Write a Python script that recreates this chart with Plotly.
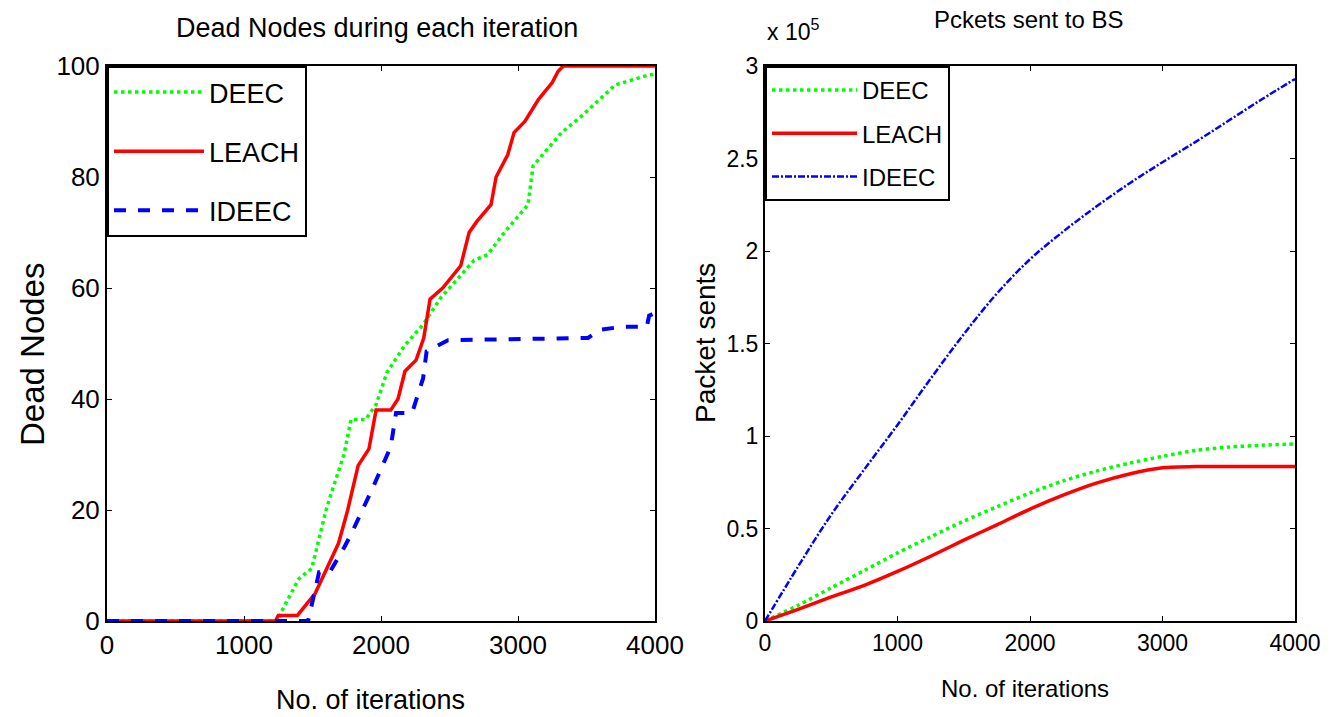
import plotly.graph_objects as go

# ---------------- Left panel: dead nodes ----------------
deec_x = [0, 1250, 1280, 1400, 1495, 1599, 1650, 1730, 1781, 1888, 1964, 2044, 2175, 2307,
          2438, 2570, 2680, 2778, 2900, 3073, 3110, 3318, 3465, 3710, 3957, 4000]
deec_y = [0, 0, 2, 7.6, 9.5, 20, 24, 30, 36.3, 36.3, 39, 44.8, 49.7, 53.4,
          58.3, 62, 65, 66, 70, 75, 82, 88, 91, 96.6, 98.4, 98.5]

leach_x = [0, 1230, 1250, 1390, 1520, 1575, 1690, 1757, 1833, 1912, 1964, 2071, 2124, 2175,
           2256, 2312, 2358, 2450, 2582, 2643, 2700, 2803, 2840, 2925, 2971, 3050, 3150,
           3250, 3292, 3330, 4000]
leach_y = [0, 0, 1, 1, 5, 8, 14, 20, 28, 31, 38, 38, 40, 45,
           47, 51, 58, 60, 64, 70, 72, 75, 80, 84, 88, 90, 94,
           97, 99, 100, 100]

ideec_x = [0, 1468, 1548, 1626, 1730, 1781, 1940, 2071, 2110, 2227, 2307, 2333, 2489,
           3511, 3600, 3760, 3940, 3957, 4000]
ideec_y = [0, 0, 8.8, 8.8, 13.2, 15.6, 24, 31.4, 37.5, 37.5, 43.7, 48.6, 50.6,
           51, 52.5, 53, 53, 55, 55.5]

# ---------------- Right panel: packets sent to BS ----------------
iters = [0, 250, 500, 750, 1000, 1250, 1500, 1750, 2000, 2250, 2500, 2750, 3000,
         3250, 3500, 3750, 4000]
pk_deec = [0, 8500, 18000, 27300, 36800, 45500, 54000, 61700, 69200, 75700, 81000,
           85300, 89000, 92200, 94000, 95000, 95700]
pk_leach = [0, 6300, 13000, 19300, 26800, 35000, 43700, 52000, 60500, 68000, 74500,
            79500, 82800, 83500, 83500, 83500, 83500]
pk_ideec = [0, 29500, 57500, 82000, 106000, 131000, 155000, 177000, 195500, 210500,
            224000, 236500, 248000, 259000, 270500, 282000, 293000]

x_ticks = [0, 1000, 2000, 3000, 4000]
left_y_ticks = [0, 20, 40, 60, 80, 100]
right_y_ticks = [0, 50000, 100000, 150000, 200000, 250000, 300000]
right_y_text = ["0", "0.5", "1", "1.5", "2", "2.5", "3"]

FONT = "Liberation Sans, Arial, Helvetica, sans-serif"
GREEN, RED, BLUE = "#00ff00", "#ff0000", "#0000ff"

W, H = 1332, 717
def px(x):
    return x / W
def py(y):
    return 1 - y / H

fig = go.Figure()

fig.add_trace(go.Scatter(x=deec_x, y=deec_y, name="DEEC", mode="lines",
                         line=dict(color=GREEN, width=3.5, dash="dot"),
                         xaxis="x", yaxis="y", legend="legend", legendgroup="a"))
fig.add_trace(go.Scatter(x=leach_x, y=leach_y, name="LEACH", mode="lines",
                         line=dict(color=RED, width=3.5),
                         xaxis="x", yaxis="y", legend="legend", legendgroup="b"))
fig.add_trace(go.Scatter(x=ideec_x, y=ideec_y, name="IDEEC", mode="lines",
                         line=dict(color=BLUE, width=4, dash="dash"),
                         xaxis="x", yaxis="y", legend="legend", legendgroup="c"))

fig.add_trace(go.Scatter(x=iters, y=pk_deec, name="DEEC", mode="lines",
                         line=dict(color=GREEN, width=3.5, dash="dot", shape="spline",
                                   smoothing=0.8),
                         xaxis="x2", yaxis="y2", legend="legend2", legendgroup="d"))
fig.add_trace(go.Scatter(x=iters, y=pk_leach, name="LEACH", mode="lines",
                         line=dict(color=RED, width=3.5, shape="spline", smoothing=0.6),
                         xaxis="x2", yaxis="y2", legend="legend2", legendgroup="e"))
fig.add_trace(go.Scatter(x=iters, y=pk_ideec, name="IDEEC", mode="lines",
                         line=dict(color=BLUE, width=2.5, dash="7px,2px,2px,2px",
                                   shape="spline", smoothing=1.0),
                         xaxis="x2", yaxis="y2", legend="legend2", legendgroup="f"))

axis_common = dict(showline=True, linecolor="black", linewidth=2, mirror="ticks",
                   ticks="inside", ticklen=5, tickwidth=1, tickcolor="black",
                   showgrid=False, zeroline=False, automargin=False)

yd = [py(621), py(66)]
fig.update_layout(
    width=W, height=H,
    margin=dict(l=0, r=0, t=0, b=0),
    paper_bgcolor="white", plot_bgcolor="white",
    font=dict(family=FONT, color="black"),
    xaxis=dict(domain=[px(107), px(655)], range=[0, 4000], tickvals=x_ticks,
               tickfont=dict(size=26), anchor="y", **axis_common),
    yaxis=dict(domain=yd, range=[0, 100], tickvals=left_y_ticks,
               tickfont=dict(size=26), anchor="x", **axis_common),
    xaxis2=dict(domain=[px(765), px(1295)], range=[0, 4000], tickvals=x_ticks,
                tickfont=dict(size=23), anchor="y2", **axis_common),
    yaxis2=dict(domain=yd, range=[0, 300000], tickvals=right_y_ticks,
                ticktext=right_y_text, tickfont=dict(size=23), anchor="x2",
                **axis_common),
    legend=dict(x=px(107), y=py(66), xanchor="left", yanchor="top",
                bgcolor="white", bordercolor="black", borderwidth=2,
                font=dict(size=27, family=FONT), traceorder="grouped",
                tracegroupgap=21, itemwidth=90),
    legend2=dict(x=px(765), y=py(66), xanchor="left", yanchor="top",
                 bgcolor="white", bordercolor="black", borderwidth=2,
                 font=dict(size=24, family=FONT), traceorder="grouped",
                 tracegroupgap=9, itemwidth=85),
    showlegend=True,
)

ann = [
    dict(text="Dead Nodes during each iteration", x=px(377), y=py(28), font=dict(size=27)),
    dict(text="No. of iterations", x=px(370), y=py(700), font=dict(size=27)),
    dict(text="Dead Nodes", x=px(32), y=py(355), font=dict(size=33), textangle=-90),
    dict(text="Pckets sent to BS", x=px(1028), y=py(20), font=dict(size=24)),
    dict(text="No. of iterations", x=px(1025), y=py(688), font=dict(size=24)),
    dict(text="Packet sents", x=px(705), y=py(343), font=dict(size=28), textangle=-90),
    dict(text="x 10<sup>5</sup>", x=px(765), y=py(30), xanchor="left", font=dict(size=23)),
]
for a in ann:
    a.setdefault("xanchor", "center")
    fig.add_annotation(xref="paper", yref="paper", showarrow=False,
                       yanchor="middle", font_family=FONT, **a)

fig.write_html("out.html")
